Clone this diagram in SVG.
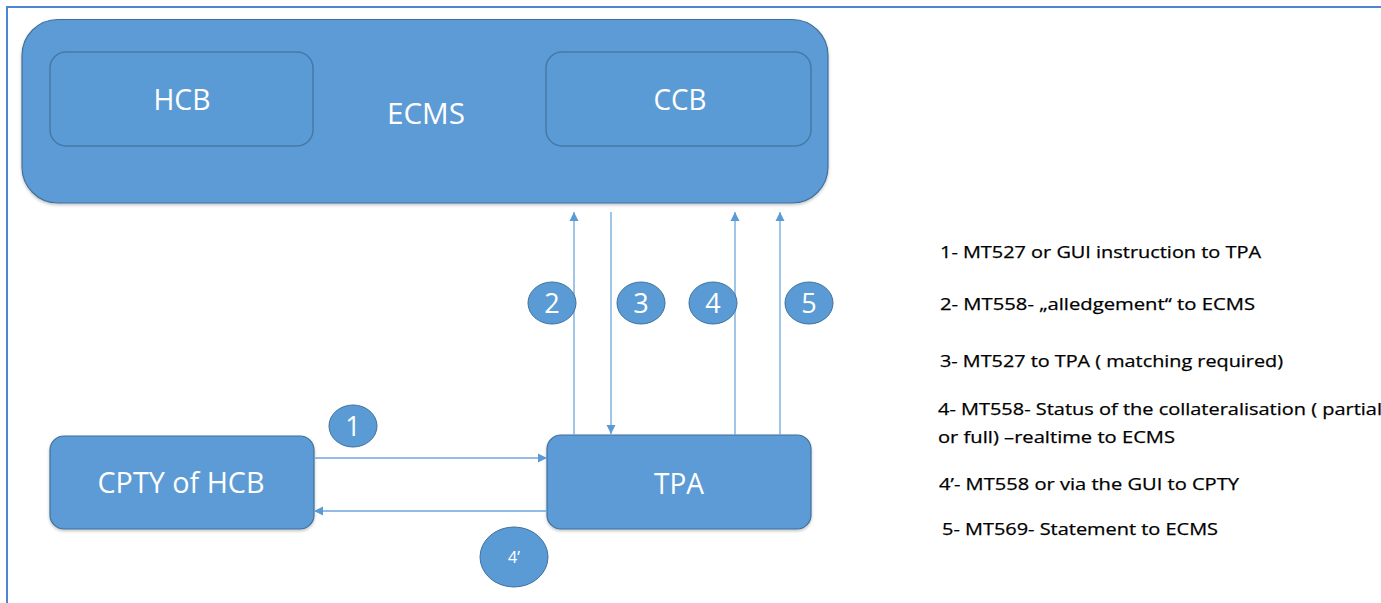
<svg xmlns="http://www.w3.org/2000/svg" width="1381" height="603" viewBox="0 0 1381 603">
<style>
.box{fill:#5b9bd5;stroke:#41719c;stroke-width:1.2}
.inner{fill:#5b9bd5;stroke:#41719c;stroke-width:1.5;stroke-opacity:0.8}
.lbl{font-family:"Open Sans","Noto Sans",sans-serif;fill:#ffffff;text-anchor:middle}
.num{font-family:"Open Sans","Noto Sans",sans-serif;fill:#ffffff;text-anchor:middle;font-size:27px}
.num.small{font-size:16px}
.bub{fill:#5b9bd5;stroke:#41719c;stroke-width:1}
.conn{stroke:#6fa6dc;stroke-width:1.3;fill:none;marker-end:url(#ah)}
.leg{font-family:"Open Sans","Noto Sans",sans-serif;fill:#000000;font-size:17px;stroke:#000000;stroke-width:0.25}
</style>
<defs>
<marker id="ah" markerWidth="10" markerHeight="10" refX="9" refY="5" orient="auto" markerUnits="userSpaceOnUse">
<path d="M0,0.5 L9,5 L0,9.5 Z" fill="#5b9bd5"/>
</marker>
<filter id="sh" x="-5%" y="-5%" width="110%" height="115%">
<feDropShadow dx="0" dy="1.5" stdDeviation="1.5" flood-color="#000" flood-opacity="0.25"/>
</filter>
</defs>
<rect width="1381" height="603" fill="#ffffff"/>
<rect x="7" y="7" width="1390" height="620" fill="none" stroke="#4f86d0" stroke-width="2"/>

<g id="ECMS">
<rect class="box" x="22" y="19.5" width="806" height="183.5" rx="36" filter="url(#sh)"/>
<text class="lbl" x="426" y="124" font-size="29" textLength="78" lengthAdjust="spacingAndGlyphs">ECMS</text>
</g>
<g id="HCB">
<rect class="inner" x="50" y="52" width="263" height="94" rx="16"/>
<text class="lbl" x="182" y="110" font-size="29" textLength="57" lengthAdjust="spacingAndGlyphs">HCB</text>
</g>
<g id="CCB">
<rect class="inner" x="546" y="52" width="265" height="94" rx="16"/>
<text class="lbl" x="680" y="110" font-size="29" textLength="53" lengthAdjust="spacingAndGlyphs">CCB</text>
</g>
<g id="CPTY">
<rect class="box" x="50" y="436" width="264" height="93" rx="14" filter="url(#sh)"/>
<text class="lbl" x="181" y="493" font-size="29" textLength="167" lengthAdjust="spacingAndGlyphs">CPTY of HCB</text>
</g>
<g id="TPA">
<rect class="box" x="547" y="435" width="264" height="94" rx="14" filter="url(#sh)"/>
<text class="lbl" x="679" y="494" font-size="29" textLength="50" lengthAdjust="spacingAndGlyphs">TPA</text>
</g>

<g id="connectors">
<line class="conn" x1="574" y1="435" x2="574" y2="212"/>
<line class="conn" x1="611" y1="212" x2="611" y2="434"/>
<line class="conn" x1="735" y1="435" x2="735" y2="212"/>
<line class="conn" x1="780" y1="435" x2="780" y2="212"/>
<line class="conn" x1="314" y1="458" x2="547" y2="458"/>
<line class="conn" x1="547" y1="511" x2="314" y2="511"/>
</g>

<g id="badge-1"><ellipse class="bub" cx="353" cy="426" rx="24" ry="21"/><text class="num" x="353" y="436">1</text></g>
<g id="badge-2"><ellipse class="bub" cx="552" cy="303" rx="24" ry="21"/><text class="num" x="552" y="313">2</text></g>
<g id="badge-3"><ellipse class="bub" cx="641" cy="303" rx="24" ry="21"/><text class="num" x="641" y="313">3</text></g>
<g id="badge-4"><ellipse class="bub" cx="713" cy="303" rx="24" ry="21"/><text class="num" x="713" y="313">4</text></g>
<g id="badge-5"><ellipse class="bub" cx="809" cy="303" rx="24" ry="21"/><text class="num" x="809" y="313">5</text></g>
<g id="badge-4p"><ellipse class="bub" cx="514" cy="557" rx="34" ry="30"/><text class="num small" x="514" y="563">4’</text></g>

<g id="legend">
<text class="leg" x="940" y="258" textLength="321" lengthAdjust="spacingAndGlyphs">1- MT527 or GUI instruction to TPA</text>
<text class="leg" x="940" y="310" textLength="315" lengthAdjust="spacingAndGlyphs">2- MT558- „alledgement“ to ECMS</text>
<text class="leg" x="940" y="367" textLength="343" lengthAdjust="spacingAndGlyphs">3- MT527 to TPA ( matching required)</text>
<text class="leg" x="938" y="415" textLength="444" lengthAdjust="spacingAndGlyphs">4- MT558- Status of the collateralisation ( partial</text>
<text class="leg" x="938" y="443" textLength="237" lengthAdjust="spacingAndGlyphs">or full) –realtime to ECMS</text>
<text class="leg" x="939" y="490" textLength="300" lengthAdjust="spacingAndGlyphs">4’- MT558 or via the GUI to CPTY</text>
<text class="leg" x="942" y="535" textLength="276" lengthAdjust="spacingAndGlyphs">5- MT569- Statement to ECMS</text>
</g>
</svg>
